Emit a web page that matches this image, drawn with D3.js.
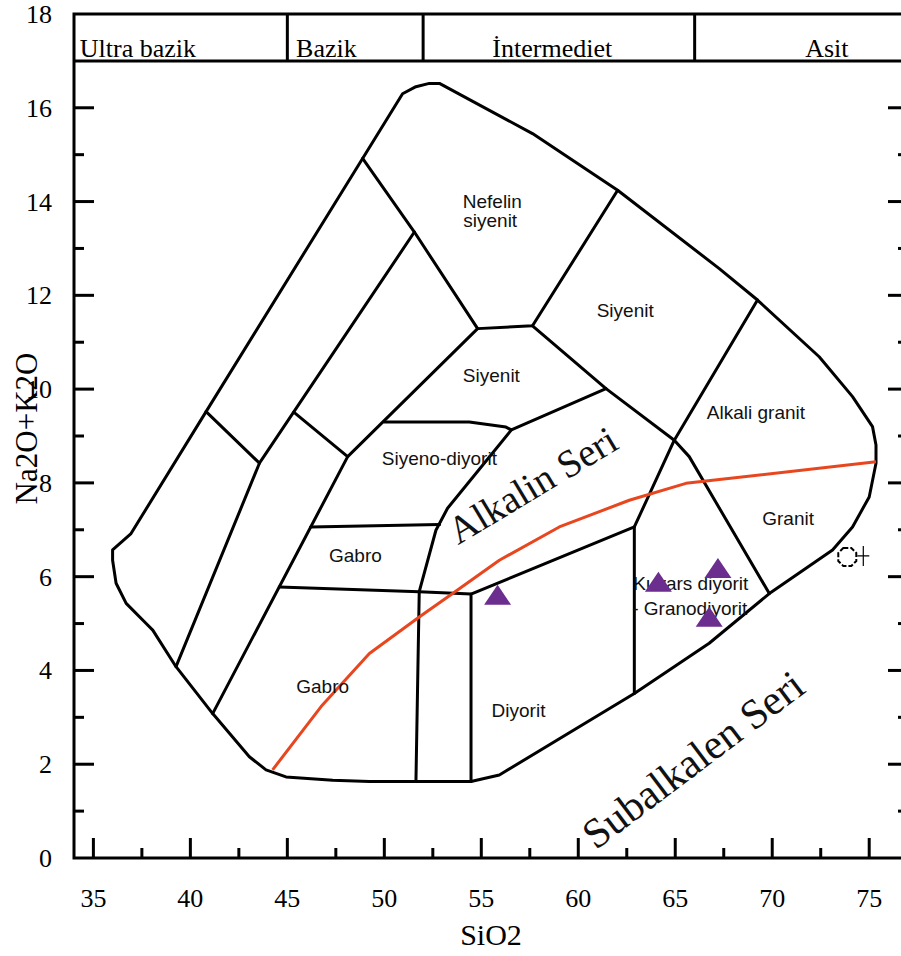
<!DOCTYPE html>
<html>
<head>
<meta charset="utf-8">
<script src="https://cdn.jsdelivr.net/npm/d3@7"></script>
<style>
  html, body { margin: 0; padding: 0; background: #fff; }
  svg { display: block; }
</style>
</head>
<body>
<svg id="chart" width="901" height="956"></svg>
<script>
// TAS classification diagram for plutonic rocks (SiO2 vs Na2O+K2O)

const xTicksMajor = [35, 40, 45, 50, 55, 60, 65, 70, 75];
const xTicksMinor = [37.5, 42.5, 47.5, 52.5, 57.5, 62.5, 67.5, 72.5];
const yTicksLabel = [0, 2, 4, 6, 8, 10, 12, 14, 16, 18];
const yTicksMajor = [2, 4, 6, 8, 10, 12, 14, 16];
const yTicksMinor = [1, 3, 5, 7, 9, 11, 13, 15];

// silica classes along the top band
const silicaBreaks = [45, 52, 66];
const silicaClasses = [
  { name: "Ultra bazik", x: 34.3, anchor: "start" },
  { name: "Bazik", x: 45.45, anchor: "start" },
  { name: "İntermediet", x: 58.66, anchor: "middle" },
  { name: "Asit", x: 71.7, anchor: "start" }
];

// outer envelope of the field
const outerBoundary = [
  [35.99, 6.35], [36.17, 5.86], [36.69, 5.43], [37.72, 5.00], [38.06, 4.86],
  [39.26, 4.08], [41.15, 3.08], [43.04, 2.16], [43.90, 1.88], [44.93, 1.73],
  [47.34, 1.66], [49.23, 1.63], [51.63, 1.63], [54.47, 1.63], [55.93, 1.77],
  [62.89, 3.51], [66.75, 4.58], [69.85, 5.64], [73.11, 6.57], [74.14, 7.06],
  [75.00, 7.70], [75.35, 8.42], [75.35, 8.81], [75.17, 9.20], [74.14, 9.84],
  [72.42, 10.69], [69.24, 11.90], [67.27, 12.57], [62.03, 14.24], [57.64, 15.45],
  [52.84, 16.52], [52.32, 16.52], [51.63, 16.45], [50.94, 16.30], [48.88, 14.92],
  [40.81, 9.52], [36.94, 6.92], [35.99, 6.57]
];

// internal field boundaries
const divisionLines = [
  [[40.81, 9.52], [43.56, 8.42]],
  [[39.26, 4.08], [43.56, 8.42], [51.55, 13.35]],
  [[48.88, 14.92], [51.55, 13.35], [54.81, 11.29], [57.64, 11.35], [62.03, 14.24]],
  [[57.64, 11.35], [61.43, 10.01], [64.95, 8.91], [65.72, 8.56], [69.85, 5.64]],
  [[69.24, 11.90], [64.95, 8.91], [62.89, 7.06], [62.89, 3.51]],
  [[62.89, 7.06], [54.47, 5.63], [54.47, 1.63]],
  [[45.33, 9.51], [48.11, 8.56]],
  [[41.15, 3.08], [48.11, 8.56], [54.81, 11.29]],
  [[50.00, 9.30], [54.38, 9.30], [56.27, 9.19], [56.55, 9.13], [61.43, 10.01]],
  [[56.55, 9.13], [53.26, 7.46], [52.66, 6.99], [51.80, 5.68], [51.63, 1.63]],
  [[46.20, 7.06], [52.85, 7.11]],
  [[44.58, 5.78], [51.80, 5.68], [54.47, 5.63]]
];

// alkaline / subalkaline divide
const seriesDivide = [
  [44.24, 1.88], [46.74, 3.23], [49.23, 4.36], [51.80, 5.14], [53.52, 5.64],
  [55.93, 6.35], [59.02, 7.06], [62.63, 7.63], [65.55, 7.99], [75.35, 8.45]
];

// field names (baseline positions)
const fieldLabels = [
  { text: "Nefelin", x: 55.57, y: 13.86, anchor: "middle" },
  { text: "siyenit", x: 55.46, y: 13.45, anchor: "middle" },
  { text: "Siyenit", x: 62.42, y: 11.54, anchor: "middle" },
  { text: "Siyenit", x: 55.52, y: 10.16, anchor: "middle" },
  { text: "Alkali granit", x: 69.16, y: 9.36, anchor: "middle" },
  { text: "Siyeno-diyorit", x: 52.84, y: 8.38, anchor: "middle" },
  { text: "Gabro", x: 48.51, y: 6.31, anchor: "middle" },
  { text: "Gabro", x: 46.82, y: 3.51, anchor: "middle" },
  { text: "Diyorit", x: 56.92, y: 3.01, anchor: "middle" },
  { text: "Granit", x: 70.82, y: 7.10, anchor: "middle" },
  { text: "Kuvars diyorit", x: 65.80, y: 5.71, anchor: "middle" },
  { text: "- Granodiyorit", x: 62.78, y: 5.18, anchor: "start" }
];

const seriesLabels = [
  { text: "Alkalin Seri", x: 53.8, y: 6.67, angle: -31, size: 39 },
  { text: "Subalkalen Seri", x: 60.9, y: 0.16, angle: -37, size: 42 }
];

// analysed samples
const sampleSiO2 = [55.84, 64.13, 67.20, 66.75];
const sampleAlkali = [5.55, 5.83, 6.12, 5.08];

// single open symbol sample
const otherSiO2 = [73.87];
const otherAlkali = [6.42];

const svg = d3.select("#chart");

const x = d3.scaleLinear().domain([34, 77]).range([74, 908]);
const y = d3.scaleLinear().domain([0, 18]).range([858, 14]);

const serif = "'Liberation Serif', 'Times New Roman', serif";
const sans = "'Liberation Sans', Arial, sans-serif";

// frame
svg.append("rect")
  .attr("x", x(34)).attr("y", y(18))
  .attr("width", x(77) - x(34)).attr("height", y(0) - y(18))
  .attr("fill", "none").attr("stroke", "#000").attr("stroke-width", 3);

// header band
svg.append("line")
  .attr("x1", x(34)).attr("x2", x(77))
  .attr("y1", y(17)).attr("y2", y(17))
  .attr("stroke", "#000").attr("stroke-width", 3);
svg.selectAll(".sbreak").data(silicaBreaks).join("line")
  .attr("x1", d => x(d)).attr("x2", d => x(d))
  .attr("y1", y(18)).attr("y2", y(17))
  .attr("stroke", "#000").attr("stroke-width", 3);
svg.selectAll(".sclass").data(silicaClasses).join("text")
  .attr("x", d => x(d.x)).attr("y", y(17.08))
  .attr("text-anchor", d => d.anchor)
  .attr("font-family", serif).attr("font-size", 26)
  .text(d => d.name);

// x axis ticks (inward)
const tickG = svg.append("g").attr("stroke", "#000").attr("stroke-width", 3);
tickG.selectAll(".xmaj").data(xTicksMajor).join("line")
  .attr("x1", d => x(d)).attr("x2", d => x(d))
  .attr("y1", y(0)).attr("y2", y(0) - 20);
tickG.selectAll(".xmin").data(xTicksMinor).join("line")
  .attr("x1", d => x(d)).attr("x2", d => x(d))
  .attr("y1", y(0)).attr("y2", y(0) - 10);
// y axis ticks, left and right (inward)
tickG.selectAll(".ylmaj").data(yTicksMajor).join("line")
  .attr("x1", x(34)).attr("x2", x(34) + 20)
  .attr("y1", d => y(d)).attr("y2", d => y(d));
tickG.selectAll(".ylmin").data(yTicksMinor).join("line")
  .attr("x1", x(34)).attr("x2", x(34) + 10)
  .attr("y1", d => y(d)).attr("y2", d => y(d));
tickG.selectAll(".yrmaj").data(yTicksMajor).join("line")
  .attr("x1", x(77)).attr("x2", x(77) - 20)
  .attr("y1", d => y(d)).attr("y2", d => y(d));
tickG.selectAll(".yrmin").data(yTicksMinor).join("line")
  .attr("x1", x(77)).attr("x2", x(77) - 10)
  .attr("y1", d => y(d)).attr("y2", d => y(d));

// tick labels
svg.selectAll(".xlab").data(xTicksMajor).join("text")
  .attr("x", d => x(d)).attr("y", y(0) + 49)
  .attr("text-anchor", "middle")
  .attr("font-family", serif).attr("font-size", 26)
  .text(d => d);
svg.selectAll(".ylab").data(yTicksLabel).join("text")
  .attr("x", x(34) - 22).attr("y", d => y(d) + 9)
  .attr("text-anchor", "end")
  .attr("font-family", serif).attr("font-size", 26)
  .text(d => d);

// axis titles
svg.append("text")
  .attr("x", x(55.5)).attr("y", 945)
  .attr("text-anchor", "middle")
  .attr("font-family", serif).attr("font-size", 30)
  .text("SiO2");
svg.append("text")
  .attr("transform", `translate(37, ${y(9.16)}) rotate(-90)`)
  .attr("text-anchor", "middle")
  .attr("font-family", serif).attr("font-size", 31)
  .text("Na2O+K2O");

// fields
const line = d3.line().x(d => x(d[0])).y(d => y(d[1]));
const closed = d3.line().x(d => x(d[0])).y(d => y(d[1])).curve(d3.curveLinearClosed);

svg.append("path")
  .attr("d", closed(outerBoundary))
  .attr("fill", "none").attr("stroke", "#000")
  .attr("stroke-width", 3).attr("stroke-linejoin", "round");

svg.selectAll(".div").data(divisionLines).join("path")
  .attr("d", d => line(d))
  .attr("fill", "none").attr("stroke", "#000")
  .attr("stroke-width", 3).attr("stroke-linejoin", "round").attr("stroke-linecap", "round");

svg.append("path")
  .attr("d", line(seriesDivide))
  .attr("fill", "none").attr("stroke", "#e8461f")
  .attr("stroke-width", 3).attr("stroke-linejoin", "round");

// labels
svg.selectAll(".field").data(fieldLabels).join("text")
  .attr("x", d => x(d.x)).attr("y", d => y(d.y))
  .attr("text-anchor", d => d.anchor)
  .attr("font-family", sans).attr("font-size", 19)
  .attr("fill", "#111")
  .text(d => d.text);

svg.selectAll(".series").data(seriesLabels).join("text")
  .attr("transform", d => `translate(${x(d.x)}, ${y(d.y)}) rotate(${d.angle})`)
  .attr("font-family", serif).attr("font-size", d => d.size)
  .attr("fill", "#111")
  .text(d => d.text);

// samples: filled triangles centred on the point
const triPath = "M0,-13L13.5,7L-13.5,7Z";
svg.selectAll(".sample").data(sampleSiO2.map((s, i) => [s, sampleAlkali[i]])).join("path")
  .attr("transform", d => `translate(${x(d[0])}, ${y(d[1])})`)
  .attr("d", triPath)
  .attr("fill", "#6b2d8e");

// open octagon with cross
const other = otherSiO2.map((s, i) => [s, otherAlkali[i]]);
const oct = [[-4, -9], [4, -9], [9, -4], [9, 4], [4, 9], [-4, 9], [-9, 4], [-9, -4]];
const og = svg.selectAll(".other").data(other).join("g")
  .attr("transform", d => `translate(${x(d[0])}, ${y(d[1])})`);
og.append("path")
  .attr("d", "M" + oct.map(p => p.join(",")).join("L") + "Z")
  .attr("fill", "#fff").attr("stroke", "#000").attr("stroke-width", 2)
  .attr("stroke-dasharray", "5,2");
og.append("path")
  .attr("d", "M10,-1H22M16,-11V9")
  .attr("stroke", "#000").attr("stroke-width", 1.2);
</script>
</body>
</html>
